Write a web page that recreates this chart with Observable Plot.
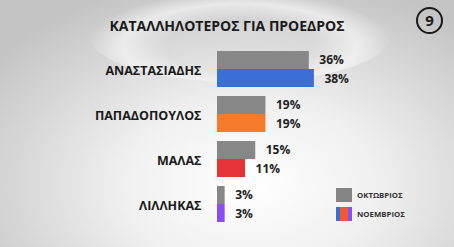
<!DOCTYPE html>
<html><head><meta charset="utf-8">
<script src="https://cdn.jsdelivr.net/npm/d3@7"></script>
<script src="https://cdn.jsdelivr.net/npm/@observablehq/plot@0.6"></script>
<style>
html,body{margin:0;padding:0;}
#wrap{position:relative;width:454px;height:247px;overflow:hidden;font-family:"Open Sans",sans-serif;
background:radial-gradient(ellipse 70% 85% at 55% 75%, #ffffff 0%, #f0f0f0 40%, #d6d6d6 75%, #c4c4c4 100%);}
#swoosh{position:absolute;left:90px;top:-8px;width:300px;height:90px;border-radius:50%;
background:radial-gradient(ellipse at 50% 60%, rgba(255,255,255,0.0) 35%, rgba(255,255,255,0.55) 55%, rgba(255,255,255,0) 72%);}
#title{position:absolute;left:0;width:454px;top:16px;text-align:center;font-weight:700;font-size:14px;color:#1a1a1a;}
#num{position:absolute;left:416px;top:7px;width:23px;height:23px;border:2px solid #1a1a1a;border-radius:50%;text-align:center;line-height:23px;font-weight:700;font-size:15px;color:#1a1a1a}
#chart{position:absolute;left:0;top:0}
.lg{position:absolute;left:336px;width:16px;height:14px}
.lt{position:absolute;left:357px;font-size:7.8px;font-weight:700;color:#333}
</style></head><body>
<div id="wrap">
<div id="swoosh"></div>
<div id="chart"></div>
<div id="title">ΚΑΤΑΛΛΗΛΟΤΕΡΟΣ ΓΙΑ ΠΡΟΕΔΡΟΣ</div>
<div id="num">9</div>
<div class="lg" style="top:188px;background:#858585"></div>
<div class="lt" style="top:190px">ΟΚΤΩΒΡΙΟΣ</div>
<div class="lg" style="top:207px;background:linear-gradient(to right,#3b6fd6 0 28%,#f05a30 28% 72%,#8b4ef0 72%)"></div>
<div class="lt" style="top:209px">ΝΟΕΜΒΡΙΟΣ</div>
</div>
<script>
const candidates = ["ΑΝΑΣΤΑΣΙΑΔΗΣ","ΠΑΠΑΔΟΠΟΥΛΟΣ","ΜΑΛΑΣ","ΛΙΛΛΗΚΑΣ"];
const october = [36, 19, 15, 3];
const november = [38, 19, 11, 3];
const novColors = ["#3b6fd6","#f47a2c","#e63337","#8b4ef0"];
const octColor = "#878787";

const oct = candidates.map((c,i)=>({c, v: october[i]}));
const nov = candidates.map((c,i)=>({c, v: november[i], col: novColors[i]}));

const plot = Plot.plot({
  width: 454, height: 247,
  marginTop: 0, marginBottom: 0, marginLeft: 0, marginRight: 0,
  style: {background: "transparent", fontFamily: "'Open Sans', sans-serif", overflow: "visible"},
  x: {domain: [0, 100], range: [217, 472], axis: null},
  y: {domain: candidates, range: [51, 222], paddingInner: 0.2, paddingOuter: 0, axis: null},
  marks: [
    Plot.barX(oct, {x: "v", y: "c", fill: octColor, insetBottom: 18}),
    Plot.barX(nov, {x: "v", y: "c", fill: d => d.col, insetTop: 18}),
    Plot.text(candidates, {x: 0, y: d => d, text: d => d, textAnchor: "end", dx: -16, dy: 1, fontWeight: 700, fontSize: 12.5, fill: "#1a1a1a"}),
    Plot.text(oct, {x: "v", y: "c", text: d => d.v + "%", textAnchor: "start", dx: 10, dy: -9, fontWeight: 700, fontSize: 12, fill: "#222"}),
    Plot.text(nov, {x: "v", y: "c", text: d => d.v + "%", textAnchor: "start", dx: 10, dy: 10, fontWeight: 700, fontSize: 12, fill: "#222"})
  ]
});
document.getElementById("chart").appendChild(plot);
</script>
</body></html>
